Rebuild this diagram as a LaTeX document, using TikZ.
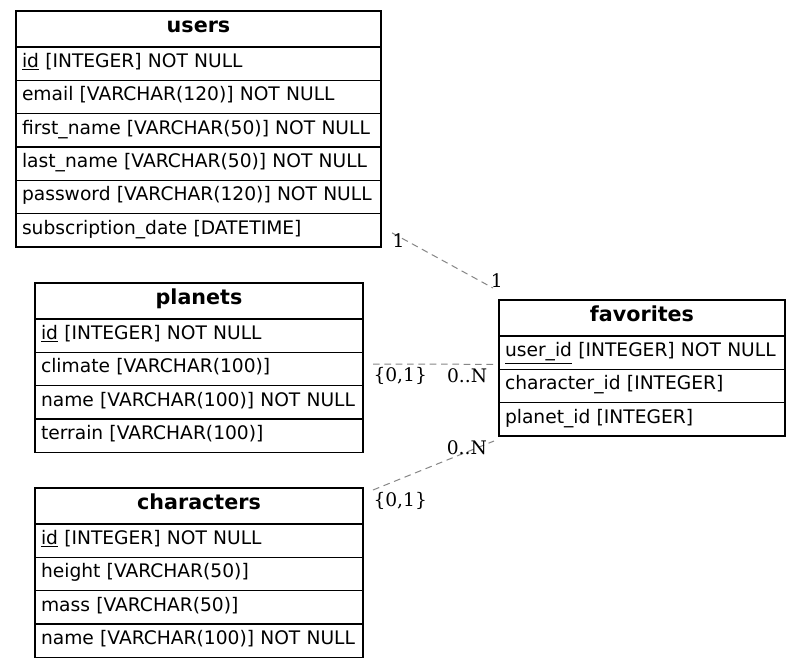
\documentclass[tikz,border=0pt]{standalone}
\usepackage{fontspec}
\usetikzlibrary{positioning,calc}
\newfontfamily\erdfont{DejaVu Sans}
\newfontfamily\cardfont{DejaVu Serif}

\tikzset{tabhead/.style={draw, line width=1pt, outer sep=0pt, minimum height=27pt, inner xsep=4pt,
           font=\erdfont\fontsize{15.5pt}{18pt}\selectfont\bfseries, text height=0.72em, text depth=0.22em},
         tabrow/.style={draw, line width=1pt, outer sep=0pt, minimum height=25pt, inner xsep=4.5pt, align=left,
           font=\erdfont\fontsize{14pt}{17pt}\selectfont, text height=0.73em, text depth=0.15em},
         rel/.style={draw=gray!95, line width=0.75pt, dash pattern=on 5pt off 3.5pt},
         card/.style={font=\cardfont\fontsize{14pt}{17pt}\selectfont, inner sep=0pt}}

\begin{document}
\begin{tikzpicture}[x=0.75pt, y=-0.75pt]
  \useasboundingbox[fill=white] (0,0) rectangle (801,669);

  % users
  \node[tabhead, anchor=north west, minimum width=273.75pt] (users) at (16,11) {users};
  \node[tabrow, text width=264.75pt, below=0pt of users] (usersid) {\underline{id} [INTEGER] NOT NULL};
  \node[tabrow, text width=264.75pt, below=0pt of usersid] (usersemail) {email [VARCHAR(120)] NOT NULL};
  \node[tabrow, text width=264.75pt, below=0pt of usersemail] (usersfirst) {first\_name [VARCHAR(50)] NOT NULL};
  \node[tabrow, text width=264.75pt, below=0pt of usersfirst] (userslast) {last\_name [VARCHAR(50)] NOT NULL};
  \node[tabrow, text width=264.75pt, below=0pt of userslast] (userspass) {password [VARCHAR(120)] NOT NULL};
  \node[tabrow, text width=264.75pt, below=0pt of userspass] (usersdate) {subscription\_date [DATETIME]};

  % planets
  \node[tabhead, anchor=north west, minimum width=246pt] (planets) at (35,283) {planets};
  \node[tabrow, text width=237pt, below=0pt of planets] (planetsid) {\underline{id} [INTEGER] NOT NULL};
  \node[tabrow, text width=237pt, below=0pt of planetsid] (planetsclimate) {climate [VARCHAR(100)]};
  \node[tabrow, text width=237pt, below=0pt of planetsclimate] (planetsname) {name [VARCHAR(100)] NOT NULL};
  \node[tabrow, text width=237pt, below=0pt of planetsname] (planetsterrain) {terrain [VARCHAR(100)]};

  % characters
  \node[tabhead, anchor=north west, minimum width=246pt] (characters) at (35,488) {characters};
  \node[tabrow, text width=237pt, below=0pt of characters] (charsid) {\underline{id} [INTEGER] NOT NULL};
  \node[tabrow, text width=237pt, below=0pt of charsid] (charsheight) {height [VARCHAR(50)]};
  \node[tabrow, text width=237pt, below=0pt of charsheight] (charsmass) {mass [VARCHAR(50)]};
  \node[tabrow, text width=237pt, below=0pt of charsmass] (charsname) {name [VARCHAR(100)] NOT NULL};

  % favorites
  \node[tabhead, anchor=north west, minimum width=214.5pt] (favorites) at (499,300) {favorites};
  \node[tabrow, text width=205.5pt, below=0pt of favorites] (favuser) {\underline{user\_id} [INTEGER] NOT NULL};
  \node[tabrow, text width=205.5pt, below=0pt of favuser] (favchar) {character\_id [INTEGER]};
  \node[tabrow, text width=205.5pt, below=0pt of favchar] (favplanet) {planet\_id [INTEGER]};

  % relations
  \draw[rel] ($(usersdate.east)+(11,2.5)$) -- ($(favorites.north west)+(-6,-12)$)
    node[card, pos=0, anchor=north west] {1}
    node[card, pos=1, anchor=south west, xshift=-2pt] {1};
  \draw[rel] ($(planetsclimate.east)+(10,-5)$) -- ($(favuser.south west)+(-2,-5)$)
    node[card, pos=0, anchor=north west, yshift=-2pt] {\{0,1\}}
    node[card, pos=1, anchor=north east, xshift=-7pt, yshift=-3pt] {0..N};
  \draw[rel] ($(characters.north east)+(10,2)$) -- ($(favplanet.south west)+(-5,5)$)
    node[card, pos=0, anchor=north west, yshift=-1.5pt] {\{0,1\}}
    node[card, pos=1, anchor=north east, xshift=-5pt, yshift=0.5pt] {0..N};
\end{tikzpicture}
\end{document}
